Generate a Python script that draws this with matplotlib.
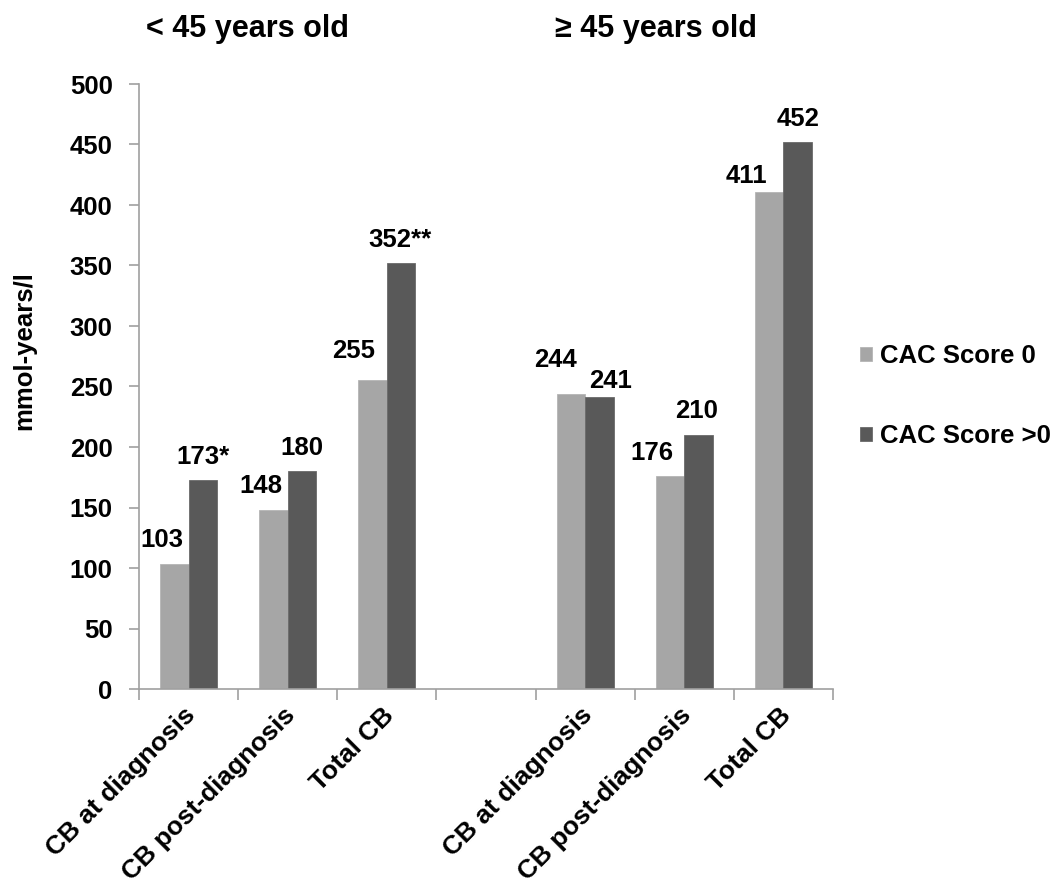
import numpy as np
import matplotlib
matplotlib.use('Agg')
from matplotlib import pyplot as plt
from matplotlib.transforms import ScaledTranslation

plt.rcParams['font.family'] = ['Liberation Sans', 'DejaVu Sans']
plt.rcParams['font.weight'] = 'bold'
plt.rcParams['axes.labelweight'] = 'bold'

# data (gap column in the middle separates the age groups)
categorias = ['CB at diagnosis', 'CB post-diagnosis', 'Total CB', '',
              'CB at diagnosis', 'CB post-diagnosis', 'Total CB']
cac0 = [103, 148, 255, np.nan, 244, 176, 411]
cacMas = [173, 180, 352, np.nan, 241, 210, 452]
etiq0 = ['103', '148', '255', '', '244', '176', '411']
etiqMas = ['173*', '180', '352**', '', '241', '210', '452']
grupos = ['< 45 years old', '\u2265 45 years old']
series = ['CAC Score 0', 'CAC Score >0']

# label nudges in pixels (dx, gap above bar)
off0 = [(-12, 17), (-13, 17), (-19, 22), (0, 0), (-15, 27), (-18, 16), (-23, 9)]
offMas = [(0, 16), (0, 16), (-1, 16), (0, 0), (11, 9), (-2, 17), (0, 16)]

gris1 = '#A6A6A6'
gris2 = '#595959'
eje = '#A0A0A0'

fig = plt.figure(figsize=(10.6, 8.88), dpi=100)
ax = fig.add_axes([139/1060, 1 - 689/888, (833-139)/1060, (689-84)/888])

x = np.arange(len(categorias))
ancho = 0.287
b1 = ax.bar(x - ancho/2, cac0, ancho, color=gris1, edgecolor='#B5B5B5', linewidth=0.6, label=series[0])
b2 = ax.bar(x + ancho/2, cacMas, ancho, color=gris2, edgecolor='#6A6A6A', linewidth=0.6, label=series[1])

px = 0.72  # points per pixel at 100 dpi
for i in range(len(categorias)):
    if etiq0[i]:
        ax.annotate(etiq0[i], (x[i] - ancho/2, cac0[i]), xytext=(off0[i][0]*px, off0[i][1]*px),
                    textcoords='offset points', ha='center', va='baseline', fontsize=18.5)
    if etiqMas[i]:
        ax.annotate(etiqMas[i], (x[i] + ancho/2, cacMas[i]), xytext=(offMas[i][0]*px, offMas[i][1]*px),
                    textcoords='offset points', ha='center', va='baseline', fontsize=18.5)

ax.set_xlim(-0.5, len(categorias) - 0.5)
ax.set_ylim(0, 500)
ax.set_yticks(np.arange(0, 501, 50))

# ticks between categories, labels at centres
ax.set_xticks(np.arange(-0.5, len(categorias) + 0.5, 1))
ax.set_xticklabels([])
ax.set_xticks(x, minor=True)
ax.set_xticklabels(categorias, minor=True, rotation=45, ha='right', rotation_mode='anchor', fontsize=19)
ax.tick_params(axis='x', which='major', length=8, color=eje, width=1.2)
ax.tick_params(axis='x', which='minor', length=0, pad=10)
ax.tick_params(axis='y', length=7, color=eje, width=1.2, pad=12, labelsize=18.5)
desp = ScaledTranslation(-5/100, 0, fig.dpi_scale_trans)
for lab in ax.get_xticklabels(minor=True):
    lab.set_transform(lab.get_transform() + desp)

for s in ['top', 'right']:
    ax.spines[s].set_visible(False)
for s in ['left', 'bottom']:
    ax.spines[s].set_color(eje)
    ax.spines[s].set_linewidth(1.2)

ax.set_ylabel('mmol-years/l', fontsize=18.5, fontweight='bold')
ax.yaxis.set_label_coords(-0.148, 0.56)

fig.text(248/1060, 1 - 37/888, grupos[0], ha='center', va='baseline', fontsize=22)
fig.text(656/1060, 1 - 37/888, grupos[1], ha='center', va='baseline', fontsize=22)

ax.legend(loc='center left', bbox_to_anchor=(860/1060, 1 - 396/888), bbox_transform=fig.transFigure,
          frameon=False, fontsize=18.5, handlelength=0.47, handleheight=0.47, handletextpad=0.3,
          labelspacing=2.2, borderpad=0, borderaxespad=0)

plt.savefig('out.png', dpi=100)
